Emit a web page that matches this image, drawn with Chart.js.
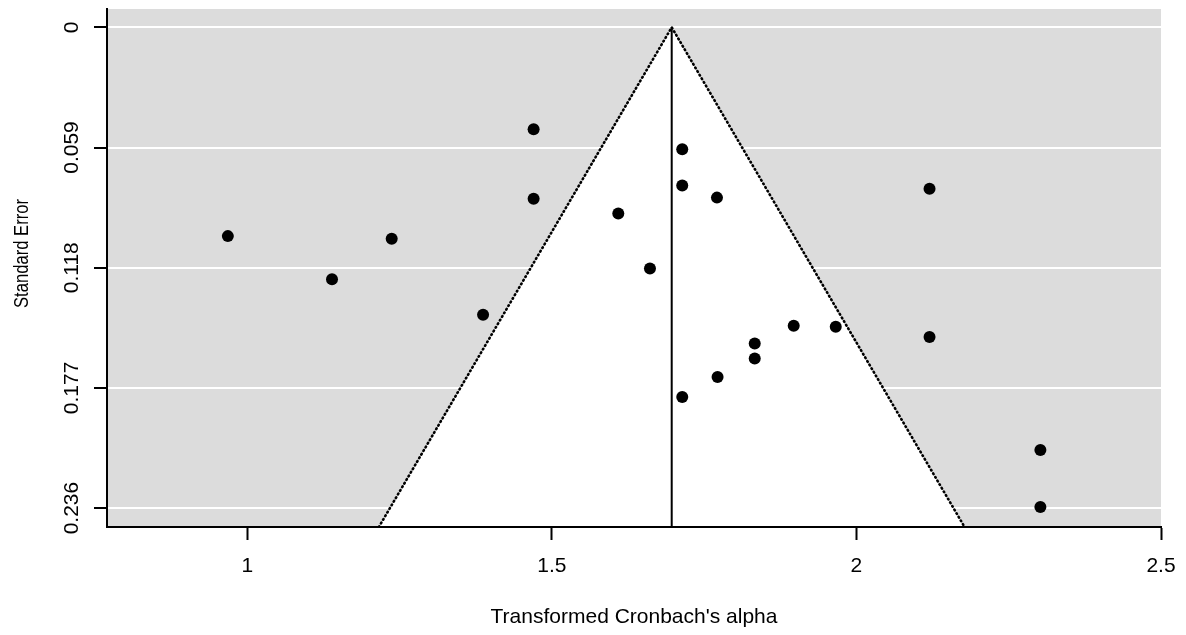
<!DOCTYPE html>
<html>
<head>
<meta charset="utf-8">
<script src="https://cdn.jsdelivr.net/npm/chart.js@4.4.1/dist/chart.umd.min.js"></script>
<style>
  html, body { margin: 0; padding: 0; background: #ffffff; }
  #c { display: block; }
</style>
</head>
<body>
<canvas id="c" width="1186" height="635"></canvas>
<script>
// ---- data ----
const effectSizes = [0.968, 1.139, 1.237, 1.387, 1.470, 1.470, 1.609, 1.661, 1.714, 1.714, 1.771,
                     2.120, 1.897, 1.966, 1.833, 1.833, 1.772, 1.714, 2.120, 2.302, 2.302];
const standardErrors = [0.1025, 0.1237, 0.1038, 0.1411, 0.0500, 0.0841, 0.0914, 0.1184, 0.0599, 0.0777, 0.0836,
                        0.0792, 0.1465, 0.1470, 0.1552, 0.1626, 0.1717, 0.1815, 0.1520, 0.2075, 0.2355];
const pooledEstimate = 1.6967;
const zCrit = 1.96;
const xTicks = [1, 1.5, 2, 2.5];
const xTickLabels = ['1', '1.5', '2', '2.5'];
const yTicks = [0, 0.059, 0.118, 0.177, 0.236];
const yTickLabels = ['0', '0.059', '0.118', '0.177', '0.236'];
const xRange = [0.7696, 2.5];
const seRange = [-0.009, 0.2453];
const xTitle = "Transformed Cronbach's alpha";
const yTitle = 'Standard Error';

// ---- derived ----
const points = effectSizes.map((v, i) => ({ x: v, y: standardErrors[i] }));
const seBottom = seRange[1];
const funnel = [
  { x: pooledEstimate - zCrit * seBottom, y: seBottom },
  { x: pooledEstimate, y: 0 },
  { x: pooledEstimate + zCrit * seBottom, y: seBottom }
];
const centerLine = [{ x: pooledEstimate, y: 0 }, { x: pooledEstimate, y: seBottom }];

const FONT = '"Liberation Sans", Arial, sans-serif';

const funnelPlugin = {
  id: 'funnelPlugin',
  beforeDraw(chart) {
    const { ctx, chartArea: a, scales: { x, y } } = chart;
    ctx.save();
    ctx.fillStyle = '#dcdcdc';
    ctx.fillRect(a.left, a.top, a.right - a.left, a.bottom - a.top);
    ctx.beginPath();
    funnel.forEach((p, i) => {
      const px = x.getPixelForValue(p.x), py = y.getPixelForValue(p.y);
      if (i === 0) ctx.moveTo(px, py); else ctx.lineTo(px, py);
    });
    ctx.closePath();
    ctx.fillStyle = '#ffffff';
    ctx.fill();
    ctx.restore();
  },
  afterDraw(chart) {
    const { ctx, scales: { y } } = chart;
    ctx.save();
    ctx.fillStyle = '#000';
    ctx.font = '21px ' + FONT;
    ctx.textAlign = 'center';
    ctx.textBaseline = 'alphabetic';
    yTicks.forEach((v, i) => {
      const py = y.getPixelForValue(v);
      ctx.save();
      ctx.translate(78, py);
      ctx.rotate(-Math.PI / 2);
      ctx.fillText(yTickLabels[i], 0, 0);
      ctx.restore();
    });
    // y axis title
    ctx.font = '21px ' + FONT;
    const w = ctx.measureText(yTitle).width;
    const target = 109;
    ctx.translate(27.5, 253.5);
    ctx.rotate(-Math.PI / 2);
    ctx.scale(target / w, 1);
    ctx.fillText(yTitle, 0, 0);
    ctx.restore();
  }
};

new Chart(document.getElementById('c'), {
  type: 'scatter',
  data: {
    datasets: [
      {
        label: 'Studies',
        data: points,
        backgroundColor: '#000',
        borderColor: '#000',
        borderWidth: 0,
        pointRadius: 6,
        pointHoverRadius: 6
      },
      {
        type: 'line',
        label: 'Pseudo confidence region',
        data: funnel,
        borderColor: '#000',
        borderWidth: 2.6,
        borderDash: [0.8, 3.4],
        borderCapStyle: 'round',
        pointRadius: 0,
        fill: false,
        tension: 0
      },
      {
        type: 'line',
        label: 'Estimate',
        data: centerLine,
        borderColor: '#000',
        borderWidth: 2,
        pointRadius: 0,
        fill: false
      }
    ]
  },
  options: {
    responsive: false,
    animation: false,
    devicePixelRatio: 1,
    layout: { padding: { top: 9, right: 25, left: 0, bottom: 0 } },
    plugins: { legend: { display: false }, tooltip: { enabled: false } },
    scales: {
      x: {
        type: 'linear',
        min: xRange[0],
        max: xRange[1],
        afterBuildTicks: s => { s.ticks = xTicks.map(v => ({ value: v })); },
        afterFit: s => { s.height = 108; s.paddingRight = 0; s.paddingLeft = 0; },
        grid: { drawOnChartArea: false, drawTicks: true, tickLength: 13, tickColor: '#000', tickWidth: 2 },
        border: { display: true, color: '#000', width: 2 },
        ticks: {
          color: '#000',
          font: { family: FONT, size: 21 },
          padding: 14,
          maxRotation: 0,
          callback: v => xTickLabels[xTicks.indexOf(v)] ?? String(v)
        },
        title: {
          display: true,
          text: xTitle,
          color: '#000',
          font: { family: FONT, size: 21 },
          padding: { top: 0, bottom: 5 }
        }
      },
      y: {
        type: 'linear',
        reverse: true,
        min: seRange[0],
        max: seRange[1],
        afterBuildTicks: s => { s.ticks = yTicks.map(v => ({ value: v })); },
        afterFit: s => { s.width = 107; s.paddingTop = 0; s.paddingBottom = 0; },
        grid: { color: '#ffffff', lineWidth: 2, drawTicks: true, tickLength: 13, tickColor: '#000', tickWidth: 2 },
        border: { display: true, color: '#000', width: 2 },
        ticks: { display: false }
      }
    }
  },
  plugins: [funnelPlugin]
});
</script>
</body>
</html>
